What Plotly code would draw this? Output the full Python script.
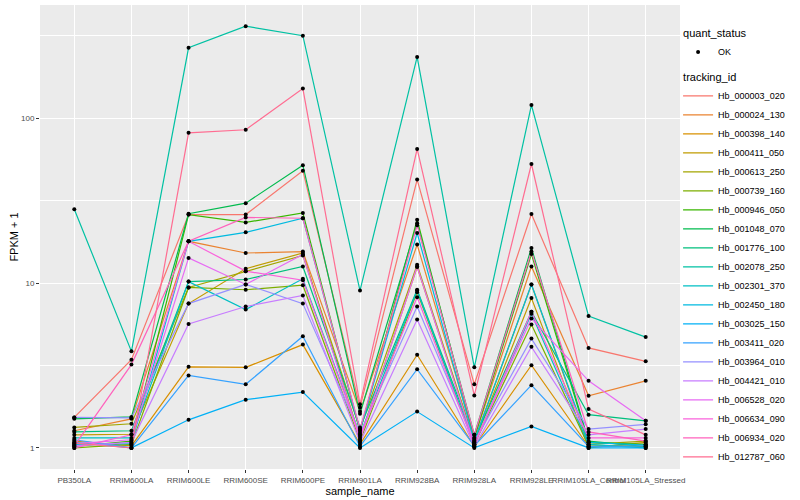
import plotly.graph_objects as go

samples = ["PB350LA", "RRIM600LA", "RRIM600LE", "RRIM600SE", "RRIM600PE", "RRIM901LA",
           "RRIM928BA", "RRIM928LA", "RRIM928LE", "RRIM105LA_Control", "RRIM105LA_Stressed"]

tracking_ids = ["Hb_000003_020", "Hb_000024_130", "Hb_000398_140", "Hb_000411_050", "Hb_000613_250",
                "Hb_000739_160", "Hb_000946_050", "Hb_001048_070", "Hb_001776_100", "Hb_002078_250",
                "Hb_002301_370", "Hb_002450_180", "Hb_003025_150", "Hb_003411_020", "Hb_003964_010",
                "Hb_004421_010", "Hb_006528_020", "Hb_006634_090", "Hb_006934_020", "Hb_012787_060"]

colors = ["#F8766D", "#EA8331", "#D89000", "#C09B00", "#A3A500", "#7CAE00", "#39B600", "#00BB4E",
          "#00BF7D", "#00C1A3", "#00BFC4", "#00BAE0", "#00B0F6", "#35A2FF", "#9590FF", "#C77CFF",
          "#E76BF3", "#FA62DB", "#FF62BC", "#FF6C91"]

# FPKM + 1 per tracking_id, in sample order
fpkm_000003_020 = [1.53, 3.43, 26.0, 26.0, 48.0, 1.76, 42.4, 2.43, 26.2, 4.04, 3.35]
fpkm_000024_130 = [1.27, 1.50, 17.9, 15.2, 15.5, 1.66, 17.1, 1.15, 12.6, 2.07, 2.55]
fpkm_000398_140 = [1.10, 1.03, 3.10, 3.08, 4.23, 1.05, 3.67, 1.02, 3.17, 1.02, 1.05]
fpkm_000411_050 = [1.20, 1.21, 7.5, 12.2, 15.2, 1.15, 12.5, 1.08, 8.1, 1.00, 1.08]
fpkm_000613_250 = [1.33, 1.40, 9.4, 11.8, 14.7, 1.30, 12.9, 1.10, 9.8, 1.05, 1.10]
fpkm_000739_160 = [1.00, 1.05, 9.4, 9.1, 9.7, 1.10, 8.8, 1.05, 5.6, 1.03, 1.02]
fpkm_000946_050 = [1.02, 1.10, 26.0, 23.3, 26.6, 1.25, 24.2, 1.15, 15.0, 1.08, 1.05]
fpkm_001048_070 = [1.50, 1.54, 26.3, 30.5, 51.8, 1.61, 23.0, 1.20, 16.3, 1.10, 1.02]
fpkm_001776_100 = [1.25, 1.27, 10.2, 10.5, 12.6, 1.33, 9.1, 1.12, 6.7, 1.59, 1.46]
fpkm_002078_250 = [28.0, 3.85, 267.0, 361.0, 316.0, 9.0, 235.0, 3.08, 120.0, 6.3, 4.7]
fpkm_002301_370 = [1.15, 1.15, 10.2, 6.9, 10.6, 1.20, 9.0, 1.05, 6.5, 1.05, 1.00]
fpkm_002450_180 = [1.05, 1.06, 17.9, 20.3, 24.7, 1.28, 20.1, 1.10, 9.8, 1.08, 1.04]
fpkm_003025_150 = [1.08, 1.00, 1.48, 1.96, 2.18, 1.00, 1.66, 1.00, 1.35, 1.00, 1.00]
fpkm_003411_020 = [1.12, 1.00, 2.75, 2.43, 4.75, 1.02, 3.00, 1.03, 2.40, 1.02, 1.03]
fpkm_003964_010 = [1.53, 1.52, 7.5, 9.8, 7.5, 1.22, 7.2, 1.08, 4.6, 1.30, 1.39]
fpkm_004421_010 = [1.03, 1.08, 5.65, 7.2, 8.4, 1.08, 6.0, 1.02, 4.1, 1.20, 1.30]
fpkm_006528_020 = [1.06, 1.12, 14.2, 9.8, 14.9, 1.12, 12.6, 1.06, 6.1, 2.55, 1.46]
fpkm_006634_090 = [1.00, 1.20, 17.9, 11.8, 10.4, 1.18, 8.2, 1.04, 6.7, 1.15, 1.15]
fpkm_006934_020 = [1.03, 3.20, 17.9, 25.0, 24.7, 1.30, 22.4, 1.20, 15.5, 1.25, 1.10]
fpkm_012787_060 = [1.07, 1.00, 81.4, 85.0, 151.0, 1.84, 65.0, 2.08, 52.7, 1.72, 1.20]

series = [fpkm_000003_020, fpkm_000024_130, fpkm_000398_140, fpkm_000411_050, fpkm_000613_250,
          fpkm_000739_160, fpkm_000946_050, fpkm_001048_070, fpkm_001776_100, fpkm_002078_250,
          fpkm_002301_370, fpkm_002450_180, fpkm_003025_150, fpkm_003411_020, fpkm_003964_010,
          fpkm_004421_010, fpkm_006528_020, fpkm_006634_090, fpkm_006934_020, fpkm_012787_060]

y_ticks = [1, 10, 100]
y_tick_labels = ["1", "10", "100"]
y_minor = [10 ** 0.5, 10 ** 1.5, 10 ** 2.5]

FONT = "Liberation Sans, Arial, sans-serif"

fig = go.Figure()

for i, (tid, vals) in enumerate(zip(tracking_ids, series)):
    fig.add_trace(go.Scatter(
        x=samples, y=vals, mode="lines", name=tid,
        line=dict(color=colors[i], width=1.2),
        legendgroup="tracking_id",
        legendgrouptitle=dict(text="tracking_id", font=dict(size=11, color="#000000")),
        legendrank=100 + i,
    ))

px, py = [], []
for vals in series:
    px.extend(samples)
    py.extend(vals)

fig.add_trace(go.Scatter(
    x=px, y=py, mode="markers", name="OK",
    marker=dict(color="#000000", size=4, symbol="circle"),
    legendgroup="quant_status",
    legendgrouptitle=dict(text="quant_status", font=dict(size=11, color="#000000")),
    legendrank=1,
))

fig.update_layout(
    width=800, height=500,
    margin=dict(l=40, r=120, t=5, b=31),
    paper_bgcolor="#FFFFFF",
    plot_bgcolor="#EBEBEB",
    font=dict(family=FONT, size=9, color="#000000"),
    showlegend=True,
    legend=dict(
        x=0.997, xanchor="left",
        y=0.971, yanchor="top",
        traceorder="grouped", tracegroupgap=6,
        font=dict(size=9, color="#000000"),
        bgcolor="rgba(0,0,0,0)",
        itemwidth=30,
    ),
    xaxis=dict(
        type="category", categoryorder="array", categoryarray=samples,
        range=[-0.6, len(samples) - 0.4],
        showgrid=True, gridcolor="#FFFFFF", gridwidth=1.3,
        zeroline=False, showline=False,
        ticks="outside", ticklen=3, tickwidth=1, tickcolor="#333333",
        tickangle=0,
        tickfont=dict(family=FONT, size=8, color="#4D4D4D"),
        title=dict(text="sample_name", font=dict(family=FONT, size=11, color="#000000"), standoff=0),
    ),
    yaxis=dict(
        type="log",
        range=[-0.128, 2.686],
        tickmode="array", tickvals=y_ticks, ticktext=y_tick_labels,
        showgrid=True, gridcolor="#FFFFFF", gridwidth=1.3,
        zeroline=False, showline=False,
        ticks="outside", ticklen=3, tickwidth=1, tickcolor="#333333",
        tickfont=dict(family=FONT, size=8, color="#4D4D4D"),
        minor=dict(tickmode="array", tickvals=y_minor, showgrid=True,
                   gridcolor="#FFFFFF", gridwidth=0.6, ticks=""),
        title=dict(text="FPKM + 1", font=dict(family=FONT, size=11, color="#000000"), standoff=0),
    ),
)

fig.write_html("out.html", config={"displayModeBar": False},
               post_script="document.body.style.margin='0';")
